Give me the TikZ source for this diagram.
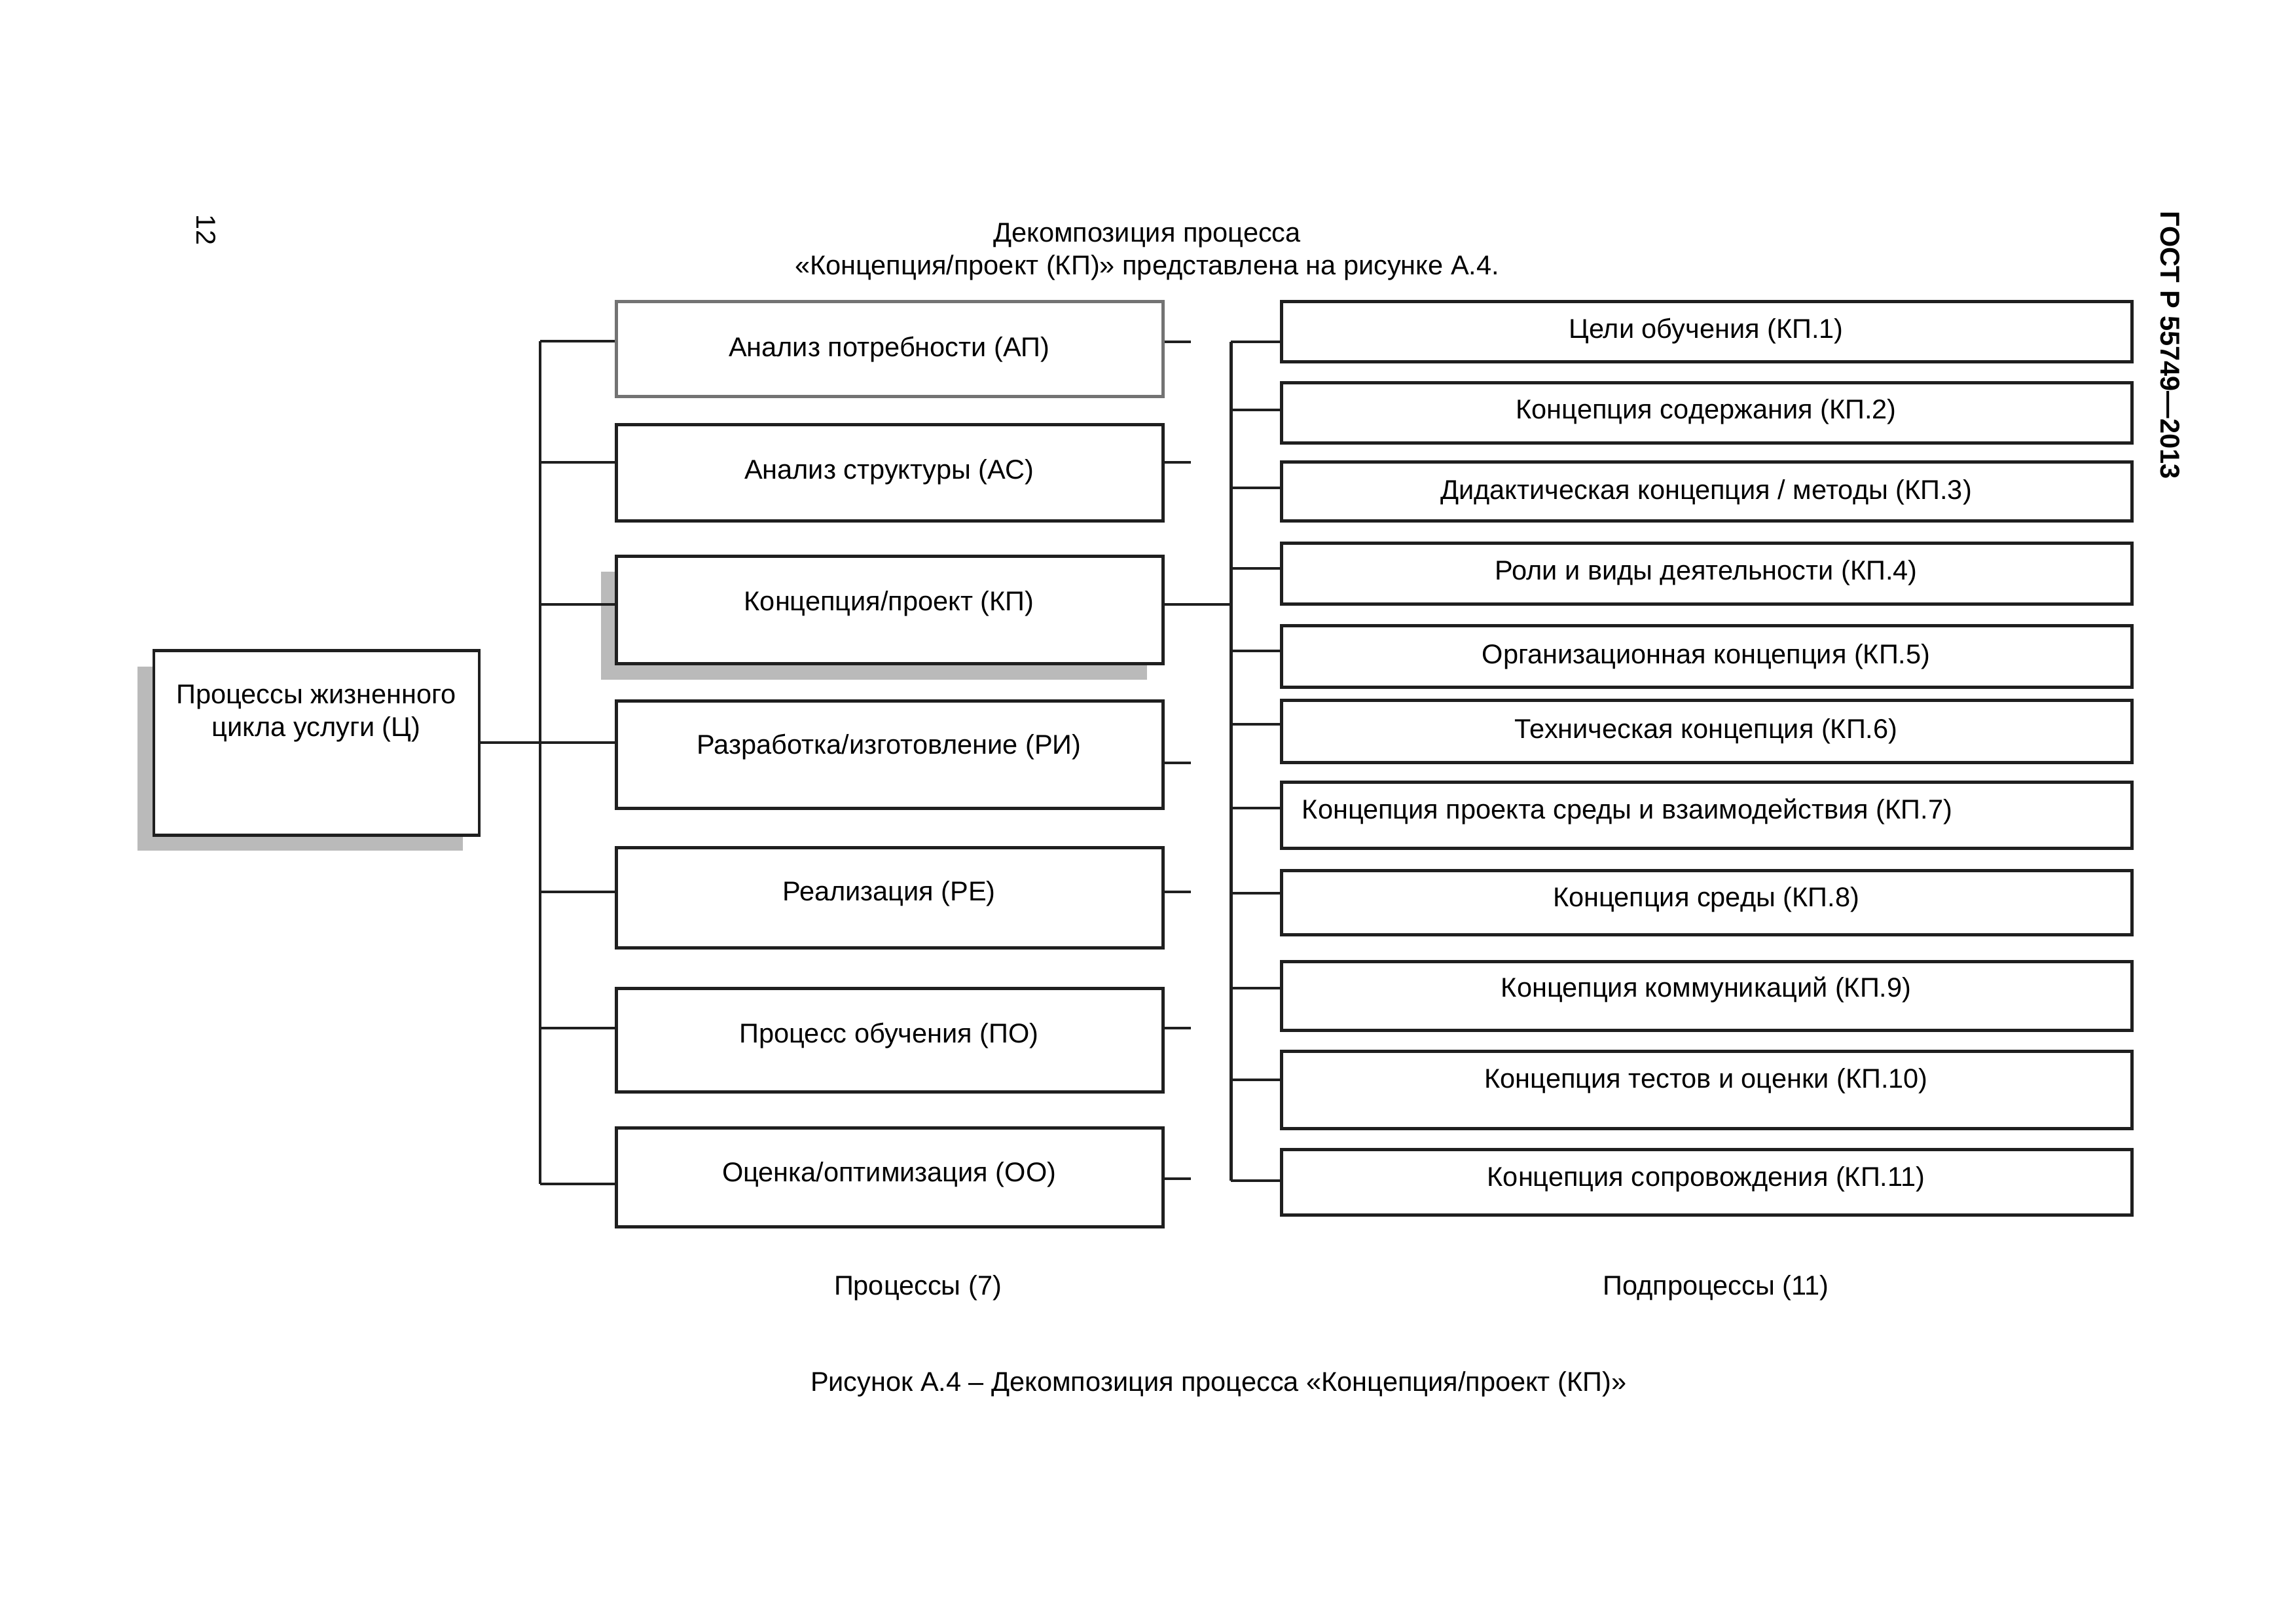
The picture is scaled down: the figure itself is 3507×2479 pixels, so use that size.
\documentclass[tikz,border=0pt]{standalone}
\usepackage{fontspec}
\setmainfont{Liberation Sans}
\usetikzlibrary{fit}
\begin{document}
\begin{tikzpicture}[x=0.084688mm, y=-0.084688mm,
  box/.style={draw=black!88, line width=1.2pt, fill=white, inner sep=0pt},
  graybox/.style={box, draw=black!55},
  shadowbox/.style={fill=black!27, draw=none, inner sep=0pt},
  rlbl/.style={font=\fontsize{10}{12}\selectfont, inner sep=0pt, align=center},
  lbl/.style={rlbl, yshift=-0.4mm},
  conn/.style={line width=0.95pt, draw=black!88},
  bus/.style={line width=1.2pt, draw=black!88}]
\useasboundingbox (0,0) rectangle (3507,2479);

% header texts
\node[rlbl, rotate=-90] (pnum) at (315,351) {12};
\node[rlbl, rotate=-90, font=\fontsize{10}{12}\selectfont\bfseries] (gost) at (3315,527) {ГОСТ Р 55749—2013};
\node[lbl] (title) at (1752,380) {Декомпозиция процесса\\«Концепция/проект (КП)» представлена на рисунке А.4.};

% root box
\node[shadowbox, fit={(210,1018)(707,1299)}] (cshadow) {};
\node[box, fit={(235,993)(732,1275)}] (c) {};
\node[lbl] (ctext) at (483,1085) {Процессы жизненного\\цикла услуги (Ц)};

% process boxes
\node[graybox, fit={(941,460)(1776,605)}] (ap) {};
\node[lbl] (aptext) at (1358,529) {Анализ потребности (АП)};
\node[box, fit={(941,648)(1776,795)}] (as) {};
\node[lbl] (astext) at (1358,716) {Анализ структуры (АС)};
\node[shadowbox, fit={(918,873)(1752,1038)}] (kpshadow) {};
\node[box, fit={(941,849)(1776,1013)}] (kp) {};
\node[lbl] (kptext) at (1358,917) {Концепция/проект (КП)};
\node[box, fit={(941,1070)(1776,1234)}] (ri) {};
\node[lbl] (ritext) at (1358,1136) {Разработка/изготовление (РИ)};
\node[box, fit={(941,1294)(1776,1447)}] (re) {};
\node[lbl] (retext) at (1358,1360) {Реализация (РЕ)};
\node[box, fit={(941,1509)(1776,1667)}] (po) {};
\node[lbl] (potext) at (1358,1577) {Процесс обучения (ПО)};
\node[box, fit={(941,1722)(1776,1873)}] (oo) {};
\node[lbl] (ootext) at (1358,1789) {Оценка/оптимизация (ОО)};

% left bus
\coordinate (lb1) at (825,521);
\coordinate (lb2) at (825,706);
\coordinate (lb3) at (825,923);
\coordinate (lb5) at (825,1362);
\coordinate (lb6) at (825,1570);
\coordinate (lb7) at (825,1808);
\draw[conn] (lb1) -- (lb7);
\draw[conn] (lb1) -- (lb1 -| ap.west);
\draw[conn] (lb2) -- (lb2 -| as.west);
\draw[conn] (lb3) -- (lb3 -| kp.west);
\draw[conn] (c.east) -- (c.east -| ri.west);
\draw[conn] (lb5) -- (lb5 -| re.west);
\draw[conn] (lb6) -- (lb6 -| po.west);
\draw[conn] (lb7) -- (lb7 -| oo.west);

% right stubs of process boxes
\coordinate (s1) at (1819,522);
\coordinate (s2) at (1819,706);
\coordinate (s4) at (1819,1165);
\coordinate (s5) at (1819,1362);
\coordinate (s6) at (1819,1570);
\coordinate (s7) at (1819,1800);
\draw[conn] (s1 -| ap.east) -- (s1);
\draw[conn] (s2 -| as.east) -- (s2);
\draw[conn] (s4 -| ri.east) -- (s4);
\draw[conn] (s5 -| re.east) -- (s5);
\draw[conn] (s6 -| po.east) -- (s6);
\draw[conn] (s7 -| oo.east) -- (s7);

% right bus
\coordinate (rb1) at (1880,522);
\coordinate (rb2) at (1880,626);
\coordinate (rb3) at (1880,745);
\coordinate (rb4) at (1880,868);
\coordinate (rbk) at (1880,923);
\coordinate (rb5) at (1880,994);
\coordinate (rb6) at (1880,1106);
\coordinate (rb7) at (1880,1234);
\coordinate (rb8) at (1880,1364);
\coordinate (rb9) at (1880,1509);
\coordinate (rb10) at (1880,1649);
\coordinate (rb11) at (1880,1803);
\draw[bus] (rb1) -- (rb11);
\draw[conn] (rbk -| kp.east) -- (rbk);

% subprocess boxes
\node[box, fit={(1957,460)(3256,552)}] (k1) {};
\node[lbl] (k1t) at (2606,501) {Цели обучения (КП.1)};
\node[box, fit={(1957,584)(3256,676)}] (k2) {};
\node[lbl] (k2t) at (2606,624) {Концепция содержания (КП.2)};
\node[box, fit={(1957,705)(3256,795)}] (k3) {};
\node[lbl] (k3t) at (2606,747) {Дидактическая концепция / методы (КП.3)};
\node[box, fit={(1957,829)(3256,922)}] (k4) {};
\node[lbl] (k4t) at (2606,870) {Роли и виды деятельности (КП.4)};
\node[box, fit={(1957,955)(3256,1049)}] (k5) {};
\node[lbl] (k5t) at (2606,998) {Организационная концепция (КП.5)};
\node[box, fit={(1957,1069)(3256,1164)}] (k6) {};
\node[lbl] (k6t) at (2606,1112) {Техническая концепция (КП.6)};
\node[box, fit={(1957,1194)(3256,1295)}] (k7) {};
\node[lbl, anchor=west] (k7t) at (1988,1235) {Концепция проекта среды и взаимодействия (КП.7)};
\node[box, fit={(1957,1329)(3256,1427)}] (k8) {};
\node[lbl] (k8t) at (2606,1369) {Концепция среды (КП.8)};
\node[box, fit={(1957,1468)(3256,1573)}] (k9) {};
\node[lbl] (k9t) at (2606,1507) {Концепция коммуникаций (КП.9)};
\node[box, fit={(1957,1605)(3256,1723)}] (k10) {};
\node[lbl] (k10t) at (2606,1646) {Концепция тестов и оценки (КП.10)};
\node[box, fit={(1957,1755)(3256,1855)}] (k11) {};
\node[lbl] (k11t) at (2606,1796) {Концепция сопровождения (КП.11)};

\draw[conn] (rb1) -- (rb1 -| k1.west);
\draw[conn] (rb2) -- (rb2 -| k2.west);
\draw[conn] (rb3) -- (rb3 -| k3.west);
\draw[conn] (rb4) -- (rb4 -| k4.west);
\draw[conn] (rb5) -- (rb5 -| k5.west);
\draw[conn] (rb6) -- (rb6 -| k6.west);
\draw[conn] (rb7) -- (rb7 -| k7.west);
\draw[conn] (rb8) -- (rb8 -| k8.west);
\draw[conn] (rb9) -- (rb9 -| k9.west);
\draw[conn] (rb10) -- (rb10 -| k10.west);
\draw[conn] (rb11) -- (rb11 -| k11.west);

% bottom labels
\node[lbl] (lp) at (1402,1962) {Процессы (7)};
\node[lbl] (ls) at (2621,1962) {Подпроцессы (11)};
\node[lbl] (cap) at (1861,2109) {Рисунок А.4 – Декомпозиция процесса «Концепция/проект (КП)»};
\end{tikzpicture}
\end{document}
